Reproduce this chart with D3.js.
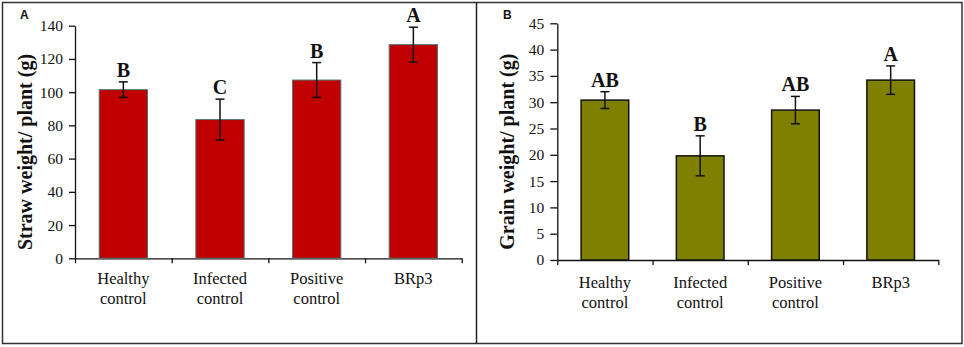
<!DOCTYPE html>
<html>
<head>
<meta charset="utf-8">
<script src="https://cdn.jsdelivr.net/npm/d3@7"></script>
<style>
  body { margin: 0; background: #fff; }
  svg text, svg tspan { font-family: 'Liberation Serif', 'Times New Roman', Times, serif; }
  svg text.tag { font-family: 'Liberation Sans', Arial, sans-serif; }
</style>
</head>
<body>
<div id="chart"></div>
<script>
// categories and values
var categories = [["Healthy", "control"], ["Infected", "control"], ["Positive", "control"], ["BRp3"]];

var strawMean = [101.5, 83.5, 107.3, 128.6];
var strawErr = [4.7, 12.3, 10.5, 10.5];
var strawLetters = ["B", "C", "B", "A"];
var strawTicks = [0, 20, 40, 60, 80, 100, 120, 140];

var grainMean = [30.4, 19.8, 28.5, 34.2];
var grainErr = [1.6, 3.8, 2.6, 2.7];
var grainLetters = ["AB", "B", "AB", "A"];
var grainTicks = [0, 5, 10, 15, 20, 25, 30, 35, 40, 45];

var W = 964, H = 347;
var serif = "'Liberation Serif', 'Times New Roman', Times, serif";

var svg = d3.select("#chart")
    .append("svg")
    .attr("width", W)
    .attr("height", H);

// outer frame + divider
svg.append("rect")
    .attr("x", 2.5).attr("y", 2.5)
    .attr("width", 959.5).attr("height", 341)
    .attr("fill", "none")
    .attr("stroke", "#333")
    .attr("stroke-width", 1.5);
svg.append("line")
    .attr("x1", 476.5).attr("x2", 476.5)
    .attr("y1", 2.5).attr("y2", 343.5)
    .attr("stroke", "#222")
    .attr("stroke-width", 1.5);

function drawPanel(p) {
    var g = svg.append("g");

    var x = d3.scaleBand()
        .domain(d3.range(categories.length))
        .range([p.x0, p.x1])
        .paddingInner(0.5)
        .paddingOuter(0.25);

    // linear scale just for the category boundary ticks
    var xb = d3.scaleLinear()
        .domain([0, categories.length])
        .range([p.x0, p.x1]);

    var y = d3.scaleLinear()
        .domain([0, p.max])
        .range([p.y0, p.y1]);

    g.append("g")
        .attr("transform", "translate(" + p.x0 + ",0)")
        .call(d3.axisLeft(y).tickValues(p.ticks).tickSize(p.tick).tickSizeOuter(0).tickPadding(6))
        .call(function(a) {
            a.attr("font-family", null).attr("font-size", null);
            a.selectAll("text")
                .style("font-family", serif)
                .style("font-size", "15.5px")
                .attr("fill", "#111");
            a.selectAll("line, path").attr("stroke", "#111").attr("stroke-width", 1.3);
        });

    g.append("g")
        .attr("transform", "translate(0," + p.y0 + ")")
        .call(d3.axisBottom(xb).tickValues(d3.range(categories.length + 1)).tickFormat("").tickSize(5).tickSizeOuter(0))
        .call(function(a) {
            a.selectAll("line, path").attr("stroke", "#111").attr("stroke-width", 1.3);
        });

    g.selectAll(".bar")
        .data(p.mean)
        .enter()
        .append("rect")
        .attr("x", function(d, i) { return x(i); })
        .attr("y", function(d) { return y(d); })
        .attr("width", x.bandwidth())
        .attr("height", function(d) { return p.y0 - y(d); })
        .attr("fill", p.fill)
        .attr("stroke", p.stroke)
        .attr("stroke-width", p.strokeW);

    var cx = function(i) { return x(i) + x.bandwidth() / 2; };

    var eb = g.selectAll(".err")
        .data(p.mean)
        .enter()
        .append("g")
        .attr("stroke", "#111")
        .attr("stroke-width", 1.5);
    eb.append("line")
        .attr("x1", function(d, i) { return cx(i); })
        .attr("x2", function(d, i) { return cx(i); })
        .attr("y1", function(d, i) { return y(d - p.err[i]); })
        .attr("y2", function(d, i) { return y(d + p.err[i]); });
    eb.append("line")
        .attr("x1", function(d, i) { return cx(i) - 4.5; })
        .attr("x2", function(d, i) { return cx(i) + 4.5; })
        .attr("y1", function(d, i) { return y(d - p.err[i]); })
        .attr("y2", function(d, i) { return y(d - p.err[i]); });
    eb.append("line")
        .attr("x1", function(d, i) { return cx(i) - 4.5; })
        .attr("x2", function(d, i) { return cx(i) + 4.5; })
        .attr("y1", function(d, i) { return y(d + p.err[i]); })
        .attr("y2", function(d, i) { return y(d + p.err[i]); });

    g.selectAll(".letter")
        .data(p.letters)
        .enter()
        .append("text")
        .attr("x", function(d, i) { return cx(i); })
        .attr("y", function(d, i) { return y(p.mean[i] + p.err[i]) - 5; })
        .attr("text-anchor", "middle")
        .style("font-size", "20px")
        .attr("font-weight", "bold")
        .attr("fill", "#111")
        .text(function(d) { return d; });

    var lab = g.selectAll(".cat")
        .data(categories)
        .enter()
        .append("text")
        .attr("text-anchor", "middle")
        .style("font-family", serif)
        .style("font-size", "16.5px")
        .attr("fill", "#111");
    lab.selectAll("tspan")
        .data(function(d, i) { return d.map(function(s) { return {s: s, i: i}; }); })
        .enter()
        .append("tspan")
        .attr("x", function(d) { return cx(d.i); })
        .attr("y", function(d, j) { return p.labelY + j * 20; })
        .text(function(d) { return d.s; });

    g.append("text")
        .attr("transform", "translate(" + p.titleX + "," + ((p.y0 + p.y1) / 2 + 10) + ") rotate(-90)")
        .attr("text-anchor", "middle")
        .style("font-size", "20px")
        .attr("font-weight", "bold")
        .attr("fill", "#111")
        .text(p.title);

    g.append("text")
        .attr("class", "tag")
        .attr("x", p.tagX)
        .attr("y", 18.5)
        .style("font-size", "12px")
        .attr("font-weight", "bold")
        .attr("fill", "#111")
        .text(p.tag);
}

drawPanel({
    x0: 75, x1: 461.7, y0: 258.3, y1: 25.7, max: 140, tick: 6,
    ticks: strawTicks, mean: strawMean, err: strawErr, letters: strawLetters,
    fill: "#c00000", stroke: "#4d7777", strokeW: 1,
    labelY: 284, titleX: 32, title: "Straw weight/ plant (g)",
    tag: "A", tagX: 20
});

drawPanel({
    x0: 557.3, x1: 938.3, y0: 260, y1: 23.3, max: 45, tick: 7,
    ticks: grainTicks, mean: grainMean, err: grainErr, letters: grainLetters,
    fill: "#808000", stroke: "#111", strokeW: 1.5,
    labelY: 288, titleX: 514, title: "Grain weight/ plant (g)",
    tag: "B", tagX: 503
});
</script>
</body>
</html>
